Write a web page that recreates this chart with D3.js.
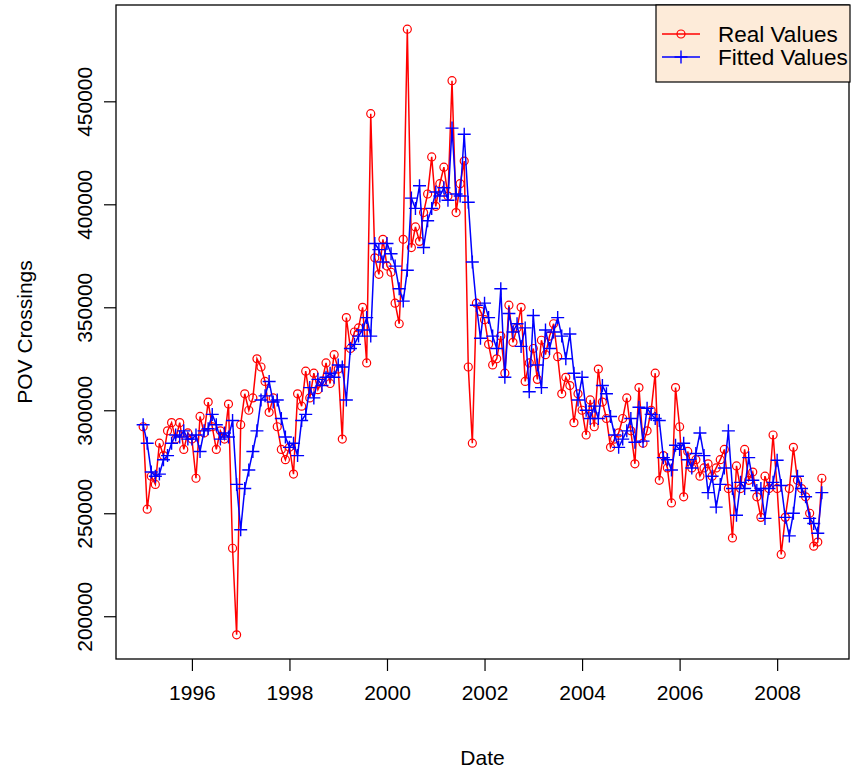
<!DOCTYPE html>
<html>
<head>
<meta charset="utf-8">
<script src="https://cdn.jsdelivr.net/npm/d3@7"></script>
<style>
  body { margin: 0; background: #ffffff; }
  text { font-family: Arial, "Liberation Sans", sans-serif; fill: #000; }
</style>
</head>
<body>
<svg id="chart" width="855" height="771"></svg>
<script>
// Monthly series, January 1995 to December 2008
const startYear = 1995;

const realValues = [
  // 1995
  292000, 252000, 268000, 264000, 284000, 278000, 290000, 294000, 286000, 294000, 281000, 289000,
  // 1996
  286000, 267000, 297000, 289000, 304000, 292000, 281000, 290000, 286000, 303000, 233000, 191000,
  // 1997
  293000, 308000, 300000, 306000, 325000, 321000, 314000, 299000, 306000, 292000, 281000, 276000,
  // 1998
  282000, 269000, 308000, 302000, 319000, 306000, 318000, 310000, 314000, 323000, 313000, 327000,
  // 1999
  320000, 286000, 345000, 330000, 338000, 340000, 350000, 323000, 444000, 374000, 366000, 383000,
  // 2000
  370000, 367000, 352000, 342000, 383000, 485000, 379000, 389000, 382000, 396000, 405000, 423000,
  // 2001
  399000, 410000, 418000, 404000, 460000, 396000, 410000, 421000, 321000, 284000, 352000, 348000,
  // 2002
  344000, 332000, 322000, 325000, 336000, 318000, 351000, 333000, 340000, 350000, 314000, 323000,
  // 2003
  330000, 315000, 334000, 327000, 336000, 342000, 326000, 308000, 316000, 312000, 294000, 308000,
  // 2004
  300000, 288000, 305000, 292000, 320000, 304000, 296000, 282000, 286000, 289000, 296000, 306000,
  // 2005
  290000, 274000, 311000, 284000, 290000, 300000, 318000, 266000, 278000, 272000, 255000, 311000,
  // 2006
  292000, 258000, 280000, 272000, 276000, 268000, 272000, 274000, 268000, 272000, 276000, 281000,
  // 2007
  262000, 238000, 273000, 262000, 281000, 266000, 270000, 258000, 248000, 268000, 262000, 288000,
  // 2008
  262000, 230000, 248000, 262000, 282000, 266000, 262000, 258000, 250000, 234000, 236000, 267000
];

const fittedValues = [
  // 1995
  293000, 284000, 270000, 268000, 269000, 276000, 278000, 284000, 288000, 287000, 290000, 286000,
  // 1996
  286000, 288000, 280000, 290000, 291000, 298000, 293000, 286000, 289000, 287000, 295000, 264000,
  // 1997
  242000, 262000, 271000, 280000, 290000, 305000, 307000, 314000, 304000, 305000, 296000, 287000,
  // 1998
  282000, 284000, 278000, 295000, 298000, 311000, 306000, 315000, 312000, 316000, 318000, 316000,
  // 1999
  322000, 321000, 305000, 330000, 332000, 336000, 339000, 345000, 336000, 381000, 378000, 372000,
  // 2000
  381000, 376000, 370000, 359000, 353000, 368000, 403000, 398000, 409000, 379000, 392000, 398000,
  // 2001
  406000, 404000, 408000, 402000, 437000, 405000, 404000, 434000, 401000, 372000, 351000, 335000,
  // 2002
  352000, 345000, 336000, 330000, 359000, 316000, 347000, 338000, 342000, 331000, 340000, 309000,
  // 2003
  346000, 322000, 311000, 339000, 330000, 338000, 345000, 336000, 325000, 337000, 318000, 305000,
  // 2004
  316000, 300000, 296000, 302000, 296000, 312000, 308000, 297000, 288000, 282000, 286000, 290000,
  // 2005
  296000, 284500, 301500, 285000, 301000, 298000, 296000, 295000, 277000, 276000, 271000, 283000,
  // 2006
  281000, 284000, 276000, 272000, 279000, 289000, 278000, 260000, 268000, 253000, 264000, 272000,
  // 2007
  290000, 262000, 249000, 265000, 262000, 277000, 266000, 261000, 262000, 247500, 262000, 265000,
  // 2008
  275700, 263500, 248000, 239000, 250000, 268000, 262000, 258000, 247500, 245000, 240300, 260000
];

const xTickYears = [1996, 1998, 2000, 2002, 2004, 2006, 2008];
const yTickValues = [200000, 250000, 300000, 350000, 400000, 450000];
const seriesNames = ["Real Values", "Fitted Values"];
const seriesColors = ["#ff0000", "#0000ff"];

const times = realValues.map((_, i) => startYear + i / 12);
const real = realValues.map((v, i) => ({ t: times[i], v }));
const fitted = fittedValues.map((v, i) => ({ t: times[i], v }));

// Plot region
const box = { left: 116, right: 849, top: 5, bottom: 659 };

// Axis ranges padded by 4% on each side
function padded(extent) {
  const d = (extent[1] - extent[0]) * 0.04;
  return [extent[0] - d, extent[1] + d];
}
const allVals = realValues.concat(fittedValues);
const x = d3.scaleLinear().domain(padded(d3.extent(times))).range([box.left, box.right]);
const y = d3.scaleLinear().domain(padded(d3.extent(allVals))).range([box.bottom, box.top]);

const svg = d3.select("#chart");
const fontSize = 21;

// Data layers
const plot = svg.append("g");

const line = d3.line().x(d => x(d.t)).y(d => y(d.v));

plot.append("path")
  .datum(real)
  .attr("d", line)
  .attr("fill", "none")
  .attr("stroke", seriesColors[0])
  .attr("stroke-width", 1.5);

plot.append("g").selectAll("circle")
  .data(real)
  .join("circle")
  .attr("cx", d => x(d.t))
  .attr("cy", d => y(d.v))
  .attr("r", 4)
  .attr("fill", "none")
  .attr("stroke", seriesColors[0])
  .attr("stroke-width", 1.2);

plot.append("path")
  .datum(fitted)
  .attr("d", line)
  .attr("fill", "none")
  .attr("stroke", seriesColors[1])
  .attr("stroke-width", 1.5);

const plusSize = 6.5;
plot.append("g").selectAll("path")
  .data(fitted)
  .join("path")
  .attr("d", d => {
    const cx = x(d.t), cy = y(d.v);
    return `M${cx - plusSize},${cy}H${cx + plusSize}M${cx},${cy - plusSize}V${cy + plusSize}`;
  })
  .attr("fill", "none")
  .attr("stroke", seriesColors[1])
  .attr("stroke-width", 1.4);

// Axes
const tickLen = 12;

const xAxis = d3.axisBottom(x).tickValues(xTickYears).tickFormat(d3.format("d"))
  .tickSizeInner(tickLen).tickSizeOuter(0).tickPadding(14);
const gx = svg.append("g").attr("transform", `translate(0,${box.bottom})`).call(xAxis);
gx.select(".domain").remove();
gx.selectAll("line").attr("stroke", "#000").attr("stroke-width", 1.2);
gx.selectAll("text").attr("font-size", fontSize).attr("font-family", "Arial, 'Liberation Sans', sans-serif");

const yAxis = d3.axisLeft(y).tickValues(yTickValues).tickFormat(d3.format("d"))
  .tickSizeInner(tickLen).tickSizeOuter(0);
const gy = svg.append("g").attr("transform", `translate(${box.left},0)`).call(yAxis);
gy.select(".domain").remove();
gy.selectAll("line").attr("stroke", "#000").attr("stroke-width", 1.2);
gy.selectAll("text")
  .attr("font-size", fontSize)
  .attr("font-family", "Arial, 'Liberation Sans', sans-serif")
  .attr("x", null).attr("dy", null)
  .attr("text-anchor", "middle")
  .attr("transform", "translate(-24,0) rotate(-90)");

// Plot frame
svg.append("rect")
  .attr("x", box.left).attr("y", box.top)
  .attr("width", box.right - box.left).attr("height", box.bottom - box.top)
  .attr("fill", "none").attr("stroke", "#000").attr("stroke-width", 1.3);

// Axis titles
svg.append("text")
  .attr("x", (box.left + box.right) / 2).attr("y", 765)
  .attr("text-anchor", "middle").attr("font-size", fontSize)
  .text("Date");

svg.append("text")
  .attr("transform", `translate(32,${(box.top + box.bottom) / 2}) rotate(-90)`)
  .attr("text-anchor", "middle").attr("font-size", fontSize)
  .text("POV Crossings");

// Legend
const legend = svg.append("g");
const lg = { left: 656, top: 5, right: box.right + 1, bottom: 82 };
legend.append("rect")
  .attr("x", lg.left).attr("y", lg.top)
  .attr("width", lg.right - lg.left).attr("height", lg.bottom - lg.top)
  .attr("fill", "#fdebd9").attr("stroke", "#000").attr("stroke-width", 1.2);

const rowY = [34, 57];
seriesNames.forEach((name, k) => {
  const yy = rowY[k];
  legend.append("line")
    .attr("x1", 662).attr("x2", 700).attr("y1", yy).attr("y2", yy)
    .attr("stroke", seriesColors[k]).attr("stroke-width", 1.5);
  if (k === 0) {
    legend.append("circle").attr("cx", 681).attr("cy", yy).attr("r", 4)
      .attr("fill", "none").attr("stroke", seriesColors[k]).attr("stroke-width", 1.2);
  } else {
    legend.append("path")
      .attr("d", `M${681 - plusSize},${yy}H${681 + plusSize}M681,${yy - plusSize}V${yy + plusSize}`)
      .attr("stroke", seriesColors[k]).attr("stroke-width", 1.4);
  }
  legend.append("text")
    .attr("x", 718).attr("y", yy + 8)
    .attr("font-size", 22.5)
    .text(name);
});
</script>
</body>
</html>
